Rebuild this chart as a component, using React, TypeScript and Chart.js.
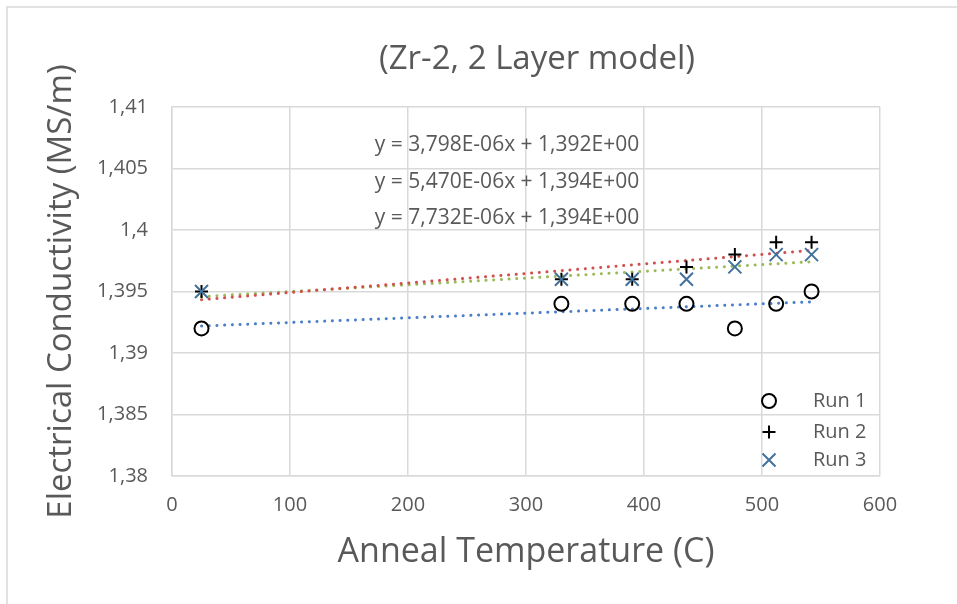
import React, { useEffect, useRef } from "react";
import { Chart, registerables } from "chart.js";

Chart.register(...registerables);

const chartTitle = "(Zr-2, 2 Layer model)";
const xAxisTitle = "Anneal Temperature (C)";
const yAxisTitle = "Electrical Conductivity (MS/m)";

const temperatures = [25, 330, 390, 436, 477, 512, 542];
const run1 = [1.392, 1.394, 1.394, 1.394, 1.392, 1.394, 1.395];
const run2 = [1.395, 1.396, 1.396, 1.397, 1.398, 1.399, 1.399];
const run3 = [1.395, 1.396, 1.396, 1.396, 1.397, 1.398, 1.398];
const seriesLabels = ["Run 1", "Run 2", "Run 3"];
const trendEquations = [
  "y = 3,798E-06x + 1,392E+00",
  "y = 5,470E-06x + 1,394E+00",
  "y = 7,732E-06x + 1,394E+00",
];
const xMin = 0;
const xMax = 600;
const xStep = 100;
const yMin = 1.38;
const yMax = 1.41;
const yStep = 0.005;

const FONT = "'Open Sans', sans-serif";
const TEXT = "#595959";
const GRID = "#D9D9D9";

function linearFit(xs: number[], ys: number[]) {
  const n = xs.length;
  const mx = xs.reduce((a, b) => a + b, 0) / n;
  const my = ys.reduce((a, b) => a + b, 0) / n;
  let sxy = 0;
  let sxx = 0;
  for (let i = 0; i < n; i++) {
    sxy += (xs[i] - mx) * (ys[i] - my);
    sxx += (xs[i] - mx) * (xs[i] - mx);
  }
  const slope = sxy / sxx;
  return { slope, intercept: my - slope * mx };
}

function trendPoints(xs: number[], ys: number[]) {
  const { slope, intercept } = linearFit(xs, ys);
  const x0 = Math.min(...xs);
  const x1 = Math.max(...xs);
  return [
    { x: x0, y: intercept + slope * x0 },
    { x: x1, y: intercept + slope * x1 },
  ];
}

const toPoints = (ys: number[]) => temperatures.map((x, i) => ({ x, y: ys[i] }));

function drawMarker(ctx: CanvasRenderingContext2D, kind: string, x: number, y: number, color: string) {
  ctx.save();
  ctx.strokeStyle = color;
  ctx.lineWidth = 2;
  ctx.beginPath();
  if (kind === "circle") {
    ctx.arc(x, y, 7, 0, Math.PI * 2);
  } else if (kind === "cross") {
    ctx.moveTo(x - 6.5, y);
    ctx.lineTo(x + 6.5, y);
    ctx.moveTo(x, y - 6.5);
    ctx.lineTo(x, y + 6.5);
  } else {
    ctx.moveTo(x - 6.5, y - 6.5);
    ctx.lineTo(x + 6.5, y + 6.5);
    ctx.moveTo(x + 6.5, y - 6.5);
    ctx.lineTo(x - 6.5, y + 6.5);
  }
  ctx.stroke();
  ctx.restore();
}

const markerKinds = ["circle", "cross", "crossRot"];
const markerColors = ["#000000", "#000000", "#41719C"];
const trendColors = ["#4A7EC7", "#D0504D", "#9BBB59"];

const decorPlugin = {
  id: "decor",
  beforeDraw(chart: any) {
    const ctx = chart.ctx as CanvasRenderingContext2D;
    ctx.save();
    ctx.fillStyle = "#FFFFFF";
    ctx.fillRect(0, 0, chart.width, chart.height);
    ctx.strokeStyle = GRID;
    ctx.lineWidth = 1.5;
    ctx.strokeRect(7, 7, chart.width + 20, chart.height + 20);
    ctx.restore();
  },
  afterDraw(chart: any) {
    const ctx = chart.ctx as CanvasRenderingContext2D;
    const area = chart.chartArea;
    ctx.save();
    ctx.fillStyle = TEXT;
    ctx.textBaseline = "middle";
    ctx.textAlign = "center";
    ctx.font = `33px ${FONT}`;
    ctx.fillText(chartTitle, 537, 60);

    ctx.font = `21px ${FONT}`;
    const eqY = [38, 75, 111];
    trendEquations.forEach((t, i) => {
      ctx.fillText(t, area.left + 335, area.top + eqY[i]);
    });

    const legY = [75, 44, 16];
    ctx.textAlign = "left";
    ctx.font = `20px ${FONT}`;
    seriesLabels.forEach((lab, i) => {
      const y = area.bottom - legY[i];
      drawMarker(ctx, markerKinds[i], area.right - 111, y, markerColors[i]);
      ctx.fillStyle = TEXT;
      ctx.fillText(lab, area.right - 67, y);
    });
    ctx.restore();
  },
};

const markerPlugin = {
  id: "markers",
  afterDatasetsDraw(chart: any) {
    const ctx = chart.ctx as CanvasRenderingContext2D;
    chart.data.datasets.forEach((ds: any, di: number) => {
      if (ds.markerKind === undefined) return;
      const meta = chart.getDatasetMeta(di);
      meta.data.forEach((pt: any) => {
        drawMarker(ctx, ds.markerKind, pt.x, pt.y, ds.markerColor);
      });
    });
  },
};

export default function App() {
  const ref = useRef<HTMLCanvasElement | null>(null);

  useEffect(() => {
    if (!ref.current) return;
    const runs = [run1, run2, run3];
    const trendDatasets = runs.map((ys, i) => ({
      type: "line" as const,
      label: seriesLabels[i] + " trend",
      data: trendPoints(temperatures, ys),
      borderColor: trendColors[i],
      borderWidth: 3,
      borderDash: [0.1, 7.6],
      borderCapStyle: "round" as const,
      pointRadius: 0,
      fill: false,
      order: 2,
    }));
    const pointDatasets = runs.map((ys, i) => ({
      type: "scatter" as const,
      label: seriesLabels[i],
      data: toPoints(ys),
      pointRadius: 0,
      pointHoverRadius: 0,
      showLine: false,
      markerKind: markerKinds[i],
      markerColor: markerColors[i],
      order: 1,
    }));

    const chart = new Chart(ref.current, {
      type: "scatter",
      data: { datasets: [...trendDatasets, ...pointDatasets] as any },
      options: {
        animation: false,
        responsive: false,
        events: [],
        layout: { padding: { top: 107, right: 77, left: 0, bottom: 0 } },
        plugins: {
          legend: { display: false },
          title: { display: false },
          tooltip: { enabled: false },
        },
        scales: {
          x: {
            type: "linear",
            min: xMin,
            max: xMax,
            afterFit: (s: any) => {
              s.height = 128;
            },
            ticks: {
              stepSize: xStep,
              color: TEXT,
              font: { size: 20, family: FONT },
              padding: 17,
            },
            grid: { color: GRID, lineWidth: 1.5, drawTicks: false },
            border: { color: GRID, width: 1.5 },
            title: {
              display: true,
              text: xAxisTitle,
              color: TEXT,
              font: { size: 34, family: FONT },
              padding: { top: 0, bottom: 31 },
            },
          },
          y: {
            type: "linear",
            min: yMin,
            max: yMax,
            afterFit: (s: any) => {
              s.width = 172;
            },
            ticks: {
              stepSize: yStep,
              color: TEXT,
              font: { size: 20, family: FONT },
              padding: 24,
              callback: (v: any) => String(parseFloat(Number(v).toFixed(3))).replace(".", ","),
            },
            grid: { color: GRID, lineWidth: 1.5, drawTicks: false },
            border: { color: GRID, width: 1.5 },
            title: {
              display: true,
              text: yAxisTitle,
              color: TEXT,
              font: { size: 33, family: FONT },
              padding: { top: 42, bottom: 0 },
            },
          },
        },
      },
      plugins: [decorPlugin, markerPlugin],
    } as any);
    return () => chart.destroy();
  }, []);

  return (
    <div style={{ position: "fixed", left: 0, top: 0, width: 957, height: 604 }}>
      <canvas ref={ref} width={957} height={604} style={{ width: 957, height: 604, display: "block" }} />
    </div>
  );
}
